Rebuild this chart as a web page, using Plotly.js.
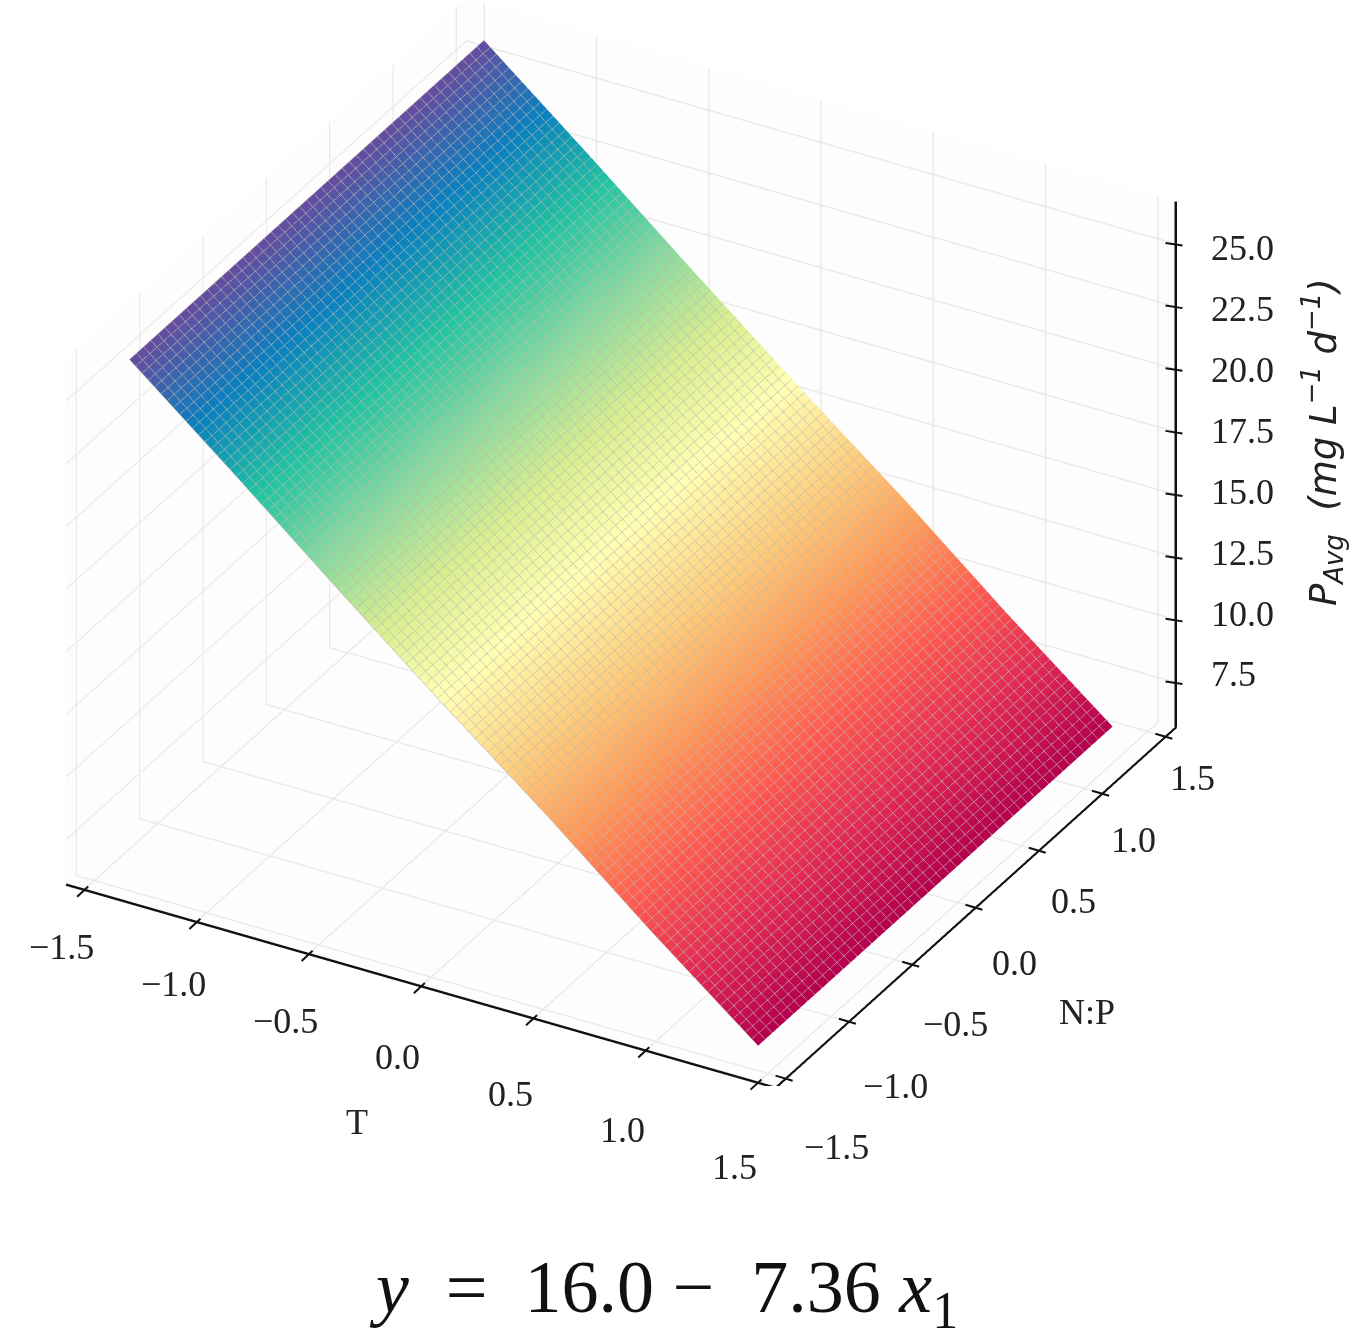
<!DOCTYPE html>
<html><head><meta charset="utf-8">
<script src="https://cdn.plot.ly/plotly-3.0.1.min.js"></script>
<style>html,body{margin:0;padding:0;background:#fff}#c{width:1366px;height:1344px}</style>
</head><body><div id="c"></div>
<script>
const tValues = [-1.4,-0.93,-0.47,0,0.47,0.93,1.4];
const npValues = [-1.4,-0.93,-0.47,0,0.47,0.93,1.4];
const pAvgByT = [26.3,22.9,19.5,16.1,12.8,9.4,6.1];
const tTicks = [-1.5,-1,-0.5,0,0.5,1,1.5];
const tTickLabels = ['−1.5','−1.0','−0.5','0.0','0.5','1.0','1.5'];
const zTicks = [7.5,10,12.5,15,17.5,20,22.5,25];
const zTickLabels = ['7.5','10.0','12.5','15.0','17.5','20.0','22.5','25.0'];
const colorStops = ['#b5004f','#e32a55','#ff5a50','#ff9a58','#fdd080','#ffffb4','#d9ee90','#86d9a0','#22c4a2','#0a80c0','#654da0'];
const colorPos = [0,0.1,0.2,0.3,0.4,0.5,0.6,0.7,0.8,0.9,1];
const xRange=[-1.58,1.58], yRange=[-1.58,1.58], zRange=[5.7,26.7];

const zGrid = npValues.map(() => pAvgByT.slice());
const serif = 'Liberation Serif';
const labelFont = {family:serif,size:36,color:'#222'};
const axisBase = {
  showbackground:true, backgroundcolor:'#fdfdfd', gridcolor:'#e8e8e8', gridwidth:3,
  showline:true, linecolor:'#111', linewidth:5, ticks:'', showticklabels:false,
  zeroline:false, showspikes:false, title:{text:''}
};
const surf = {
  type:'surface', x:tValues, y:npValues, z:zGrid, showscale:false, hoverinfo:'skip',
  colorscale:colorPos.map((p,i)=>[p,colorStops[i]]),
  lighting:{ambient:1,diffuse:0,specular:0,roughness:1,fresnel:0},
  contours:{
    x:{show:true,start:-1.4,end:1.4,size:0.028,color:'rgb(190,185,175)',width:1,highlight:false},
    y:{show:true,start:-1.4,end:1.4,size:0.056,color:'rgb(190,185,175)',width:1,highlight:false},
    z:{highlight:false}
  }
};
const X1=xRange[1],Y0=yRange[0],Y1=yRange[1],Z0=zRange[0],Z1=zRange[1];
const zAxisLine={type:'scatter3d',mode:'lines',x:[X1,X1],y:[Y1,Y1],z:[Z0,Z1],line:{color:'#111',width:5},hoverinfo:'skip',showlegend:false};
const px=(x,y)=>({xref:'paper',yref:'paper',x:x/1366,y:1-y/1344,showarrow:false,xanchor:'center',yanchor:'middle'});
const sa=(x,y,z,text,xshift,yshift,xanchor)=>({x,y,z,text,xshift,yshift,xanchor:xanchor||'center',yanchor:'middle',showarrow:false,font:labelFont});
const tick=(x,y,z,xshift,yshift,ax,ay)=>({x,y,z,text:' ',showarrow:true,arrowhead:0,arrowwidth:2,arrowcolor:'#111',standoff:0,xshift,yshift,ax,ay});
const layout = {
  width:1366,height:1344,paper_bgcolor:'#fff',margin:{l:0,r:0,t:0,b:0},showlegend:false,
  scene:{
    domain:{x:[0,0.909],y:[0.192,1]},
    aspectmode:'manual',aspectratio:{x:1.5,y:1.5,z:1.125},
    camera:{eye:{x:0.846,y:-1.5,z:1.015},center:{x:0,y:0,z:0},up:{x:0,y:0,z:1},projection:{type:'orthographic'}},
    xaxis:Object.assign({},axisBase,{range:xRange,tickvals:tTicks}),
    yaxis:Object.assign({},axisBase,{range:yRange,tickvals:tTicks}),
    zaxis:Object.assign({},axisBase,{range:zRange,tickvals:zTicks,showline:false}),
    annotations:[
      ...zTicks.map(v=>tick(X1,Y1,v,-10,1,20,3)),
      ...tTicks.map(v=>tick(v,Y0,Z0,-7,-7,14,-13)),
      ...tTicks.map(v=>tick(X1,v,Z0,-10,3,20,6)),
      ...zTicks.map((v,i)=>sa(X1,Y1,v,zTickLabels[i],34,-4+(25-v)*0.686,'left')),
      ...tTicks.map((v,i)=>sa(v,Y0,Z0,tTickLabels[i],-23,-71-9*v)),
      ...tTicks.map((v,i)=>sa(X1,v,Z0,tTickLabels[i],39-8*v,-55+9*v))
    ]
  },
  annotations:[
    Object.assign(px(663,1292),{text:'<i>y</i>&nbsp;&nbsp;=&nbsp;&nbsp;16.0&nbsp;−&nbsp;&nbsp;7.36&nbsp;<i>x</i><sub>1</sub>',font:{family:serif,size:74,color:'#111'}}),
    Object.assign(px(357,1122),{text:'T',font:labelFont}),
    Object.assign(px(1087,1012),{text:'N:P',font:labelFont}),
    Object.assign(px(1322,442),{textangle:-90,text:'<i>P<sub>Avg</sub>  (mg L<sup>−1</sup> d<sup>−1</sup>)</i>',font:{family:'DejaVu Sans',size:37,color:'#222'}})
  ]
};
Plotly.newPlot('c',[surf,zAxisLine],layout,{displayModeBar:false});
</script></body></html>
